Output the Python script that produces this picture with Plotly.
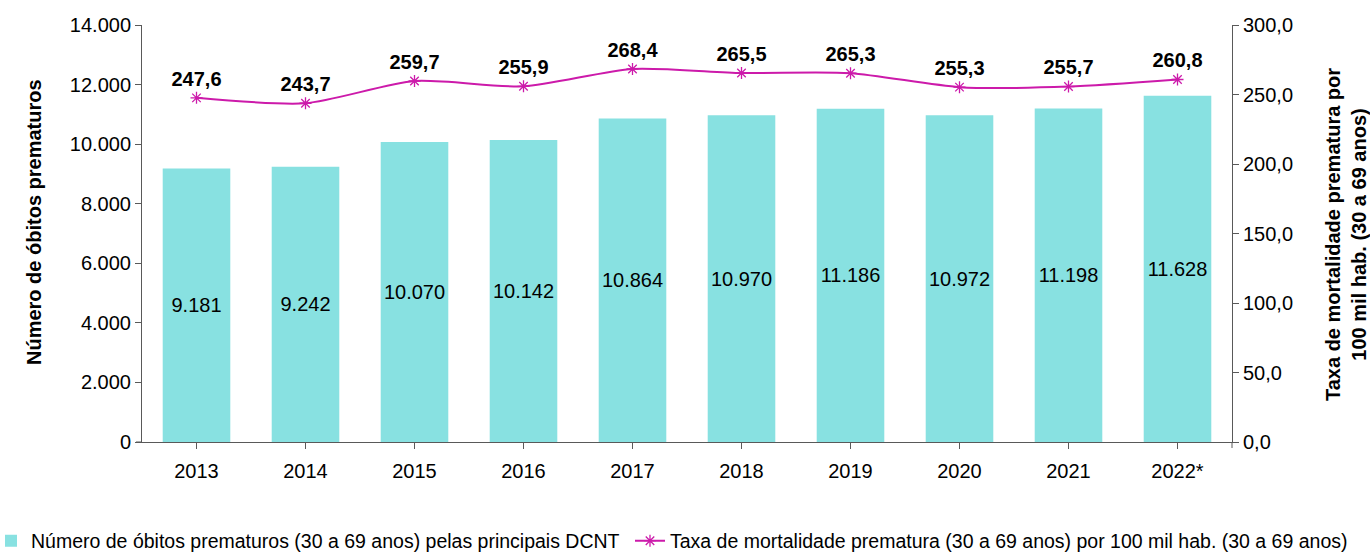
import plotly.graph_objects as go

years = ["2013", "2014", "2015", "2016", "2017", "2018", "2019", "2020", "2021", "2022*"]
obitos = [9181, 9242, 10070, 10142, 10864, 10970, 11186, 10972, 11198, 11628]
taxa = [247.6, 243.7, 259.7, 255.9, 268.4, 265.5, 265.3, 255.3, 255.7, 260.8]

left_ticks = [0, 2000, 4000, 6000, 8000, 10000, 12000, 14000]
right_ticks = [0, 50, 100, 150, 200, 250, 300]

FONT = "Liberation Sans, Arial, sans-serif"
FS = 20
LFS = 19.5
bar_color = "#88E1E1"
line_color = "#CC1AAA"
axis_color = "#595959"

W, H = 1370, 552
PL, PR, PT, PB = 142, 1232, 25, 442  # plot area in page pixels
plot_w, plot_h = PR - PL, PB - PT

def fmt_int(v):
    return f"{v:,}".replace(",", ".")

def fmt_dec(v):
    return f"{v:.1f}".replace(".", ",")

fig = go.Figure()
fig.add_trace(go.Bar(
    x=years, y=obitos, name="Número de óbitos prematuros (30 a 69 anos) pelas principais DCNT",
    marker=dict(color=bar_color, line=dict(width=0)),
    width=0.62,
    text=[fmt_int(v) for v in obitos], textposition="inside", insidetextanchor="middle",
    textfont=dict(family=FONT, size=FS, color="black"), textangle=0,
    yaxis="y", legend="legend",
))
fig.add_trace(go.Scatter(
    x=years, y=taxa, name="Taxa de mortalidade prematura (30 a 69 anos) por 100 mil hab. (30 a 69 anos)",
    mode="lines+markers+text",
    line=dict(color=line_color, width=2, shape="spline", smoothing=0.7),
    marker=dict(symbol="asterisk-open", size=10, color=line_color, line=dict(color=line_color, width=1.3)),
    text=["<b>" + fmt_dec(v) + "</b>" for v in taxa], textposition="top center",
    textfont=dict(family=FONT, size=FS, color="black"),
    yaxis="y2", cliponaxis=False, legend="legend2",
))

leg_y = (H - 541) / H
fig.update_layout(
    width=W, height=H,
    margin=dict(l=PL, r=W - PR, t=PT, b=H - PB, autoexpand=False),
    paper_bgcolor="white", plot_bgcolor="white",
    font=dict(family=FONT, size=FS, color="black"),
    separators=",.",
    showlegend=True,
    legend=dict(xref="paper", yref="container", x=(-9 - PL) / plot_w, xanchor="left", y=leg_y, yanchor="middle",
                font=dict(family=FONT, size=LFS, color="black"), itemwidth=30,
                bgcolor="rgba(0,0,0,0)"),
    legend2=dict(xref="paper", yref="container", x=(630 - PL) / plot_w, xanchor="left", y=leg_y, yanchor="middle",
                 font=dict(family=FONT, size=LFS, color="black"), itemwidth=30,
                 bgcolor="rgba(0,0,0,0)"),
    xaxis=dict(
        type="category", range=[-0.5, 9.5], showline=True, linecolor=axis_color, linewidth=1,
        ticks="outside", ticklen=6, tickcolor=axis_color, tickfont=dict(size=FS),
        showgrid=False, zeroline=False, automargin=False, ticklabelstandoff=5,
    ),
    yaxis=dict(
        range=[0, 14000], tickvals=left_ticks, ticktext=[fmt_int(v) for v in left_ticks],
        showline=True, linecolor=axis_color, linewidth=1, ticks="outside", ticklen=6, tickcolor=axis_color,
        showgrid=False, zeroline=False, tickfont=dict(size=FS), automargin=False,
    ),
    yaxis2=dict(
        range=[0, 300], overlaying="y", side="right",
        tickvals=right_ticks, ticktext=[fmt_dec(v) for v in right_ticks],
        showline=True, linecolor=axis_color, linewidth=1, ticks="outside", ticklen=6, tickcolor=axis_color,
        showgrid=False, zeroline=False, tickfont=dict(size=FS), automargin=False,
    ),
    annotations=[
        dict(text="<b>Número de óbitos prematuros</b>", textangle=-90,
             xref="paper", yref="paper", x=(34 - PL) / plot_w, y=(PB - 222) / plot_h,
             xanchor="center", yanchor="middle", showarrow=False, font=dict(size=FS)),
        dict(text="<b>Taxa de mortalidade prematura por<br>100 mil hab. (30 a 69 anos)</b>", textangle=-90,
             xref="paper", yref="paper", x=(1346 - PL) / plot_w, y=(PB - 235) / plot_h,
             xanchor="center", yanchor="middle", showarrow=False, font=dict(size=FS)),
    ],
    shapes=[
        dict(type="line", xref="paper", yref="paper", x0=-6 / plot_w, x1=0, y0=0, y1=0,
             line=dict(color=axis_color, width=1)),
        dict(type="line", xref="paper", yref="paper", x0=1, x1=1, y0=0, y1=-6 / plot_h,
             line=dict(color=axis_color, width=1)),
    ],
)

fig.write_html("out.html", config={"displayModeBar": False},
               post_script="document.body.style.margin='0';document.body.style.overflow='hidden';")
